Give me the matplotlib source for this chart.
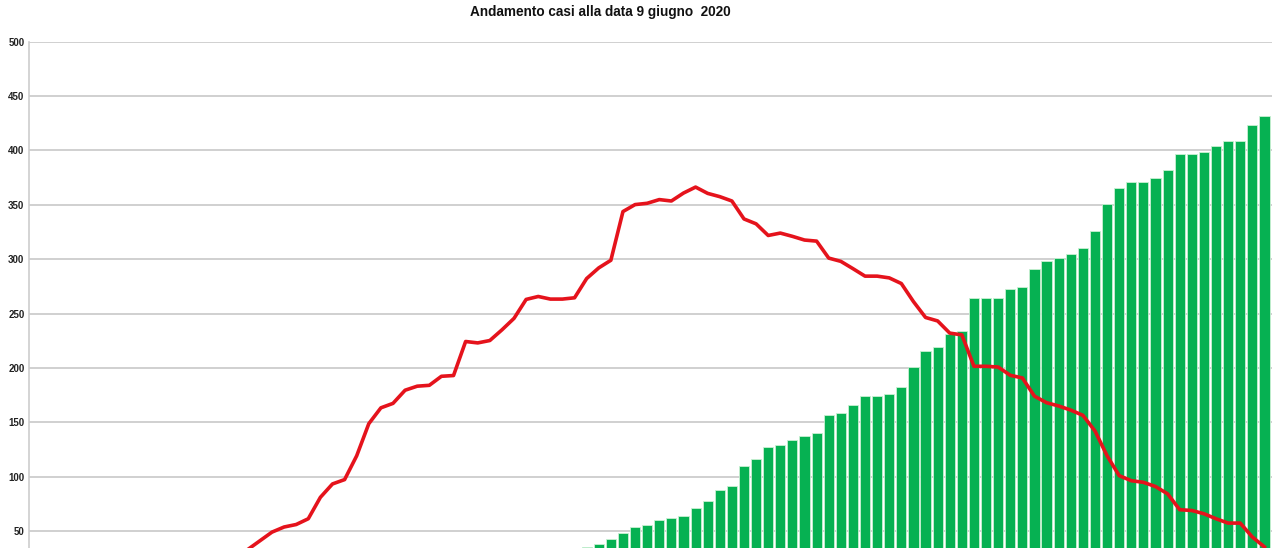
import numpy as np
import matplotlib.pyplot as plt

# one category per day, 28 Feb 2020 .. 9 Jun 2020
n_days = 103
days = np.arange(n_days)

# red line: active cases (values under ~34 fall below the visible crop)
attivi = [0, 0, 0, 0, 1, 1, 2, 3, 5, 6, 8, 10, 12, 14, 17, 20, 24, 28, 33, 41,
          49, 53.7, 56, 61.3, 81, 93.3, 97.3, 119.2, 148.7, 163.3,
          167.4, 179.5, 183.2, 184, 192.3, 193, 224.3, 223, 225.2, 235,
          245.6, 263, 265.7, 263.3, 263.3, 264.5, 282.2, 292, 299, 343.8,
          350.2, 351.4, 354.8, 353.5, 360.8, 366.3, 360.5, 357.5, 353.5, 337,
          332.5, 321.8, 324, 321, 317.6, 316.6, 301, 298, 291.3, 284.4,
          284.4, 282.8, 277.6, 261, 246.4, 243.2, 232, 230.4, 201.5, 201.5,
          200.8, 193.2, 190.8, 174, 168, 165, 161.2, 156.4, 142, 119.2,
          100.9, 96.3, 94.8, 90.9, 84.2, 69.6, 68.9, 65.9, 61.3, 57.3,
          57.3, 44.5, 35.4]

# green bars: cumulative healed
guariti = [0] * 26 + [1, 1, 2, 2, 3, 4, 5, 6, 7, 9, 10, 12, 14, 16, 18, 20,
                      22, 25, 28, 31,
           35, 38.5, 43, 48, 53.7, 55.2, 59.8, 61.9, 64, 71.4,
           78, 87.8, 91.8, 110, 115.8, 127.4, 129.3, 134.1, 137.2, 140.5,
           156.4, 158.8, 166.1, 174.3, 174.3, 175.6, 182.3, 200.5, 215.8, 219.1,
           231, 234.1, 263.9, 263.9, 264.5, 273, 274.6, 291.3, 298.4, 301.4,
           305, 310.5, 325.5, 350.5, 365, 370.6, 371.2, 375.1, 382.2, 397,
           397, 399, 404, 408.7, 408.7, 423, 431.5]

# the 0 tick lies below the cropped picture, so only 50..500 are labelled
yticks = np.arange(50, 501, 50)

plt.rcParams['font.family'] = ['Liberation Sans', 'DejaVu Sans']

fig = plt.figure(figsize=(12.8, 5.48), dpi=100)
# axis bottom sits below the picture, as in the cropped original
ax = fig.add_axes([29.3 / 1280, 1 - 585.4 / 548, (1271.7 - 29.3) / 1280, (585.4 - 41.7) / 548])

ax.bar(days, guariti, width=0.84, color='#06b152', edgecolor='#c9f1d3', linewidth=0.6, zorder=2)
ax.plot(days, attivi, color='#e5131c', lw=2.6, solid_joinstyle='round', zorder=3)

ax.set_xlim(-0.05, 102.6)
ax.set_ylim(0, 500)
ax.set_yticks(yticks)
ax.set_yticklabels([str(v) for v in yticks], fontsize=7, fontweight='bold', color='#222222')
ax.tick_params(axis='y', length=0, pad=3.5)
ax.set_xticks([])
ax.grid(axis='y', color='#cdcdcd', lw=1.3, zorder=0)
for side in ['top', 'right', 'bottom']:
    ax.spines[side].set_visible(False)
ax.spines['left'].set_color('#cdcdcd')
ax.spines['left'].set_linewidth(1.2)

fig.text(0.469, 1 - 12 / 548, 'Andamento casi alla data 9 giugno  2020',
         ha='center', va='center', fontsize=9.8, fontweight='bold', color='#111111')

fig.savefig('out.png', dpi=100)
